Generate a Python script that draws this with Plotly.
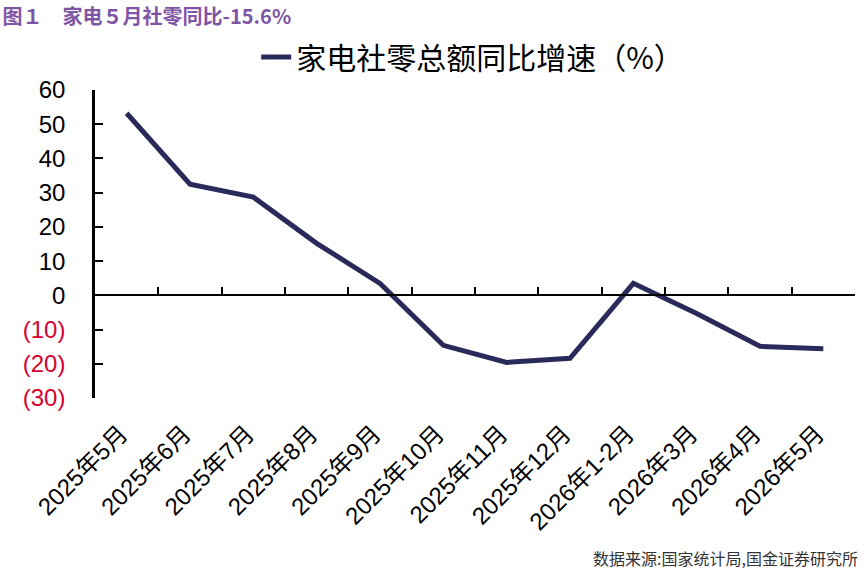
import plotly.graph_objects as go

categories = ["2025年5月", "2025年6月", "2025年7月", "2025年8月", "2025年9月", "2025年10月",
              "2025年11月", "2025年12月", "2026年1-2月", "2026年3月", "2026年4月", "2026年5月"]
values = [53.2, 32.5, 28.7, 15.2, 3.5, -14.6, -19.6, -18.4, 3.5, -5.3, -14.9, -15.6]
series_name = "家电社零总额同比增速（%）"
y_tick_vals = [-30, -20, -10, 0, 10, 20, 30, 40, 50, 60]
y_tick_text = ["(30)", "(20)", "(10)", "0", "10", "20", "30", "40", "50", "60"]
title_text = "图１　家电５月社零同比-15.6%"
source_text = "数据来源:国家统计局,国金证券研究所"

Y_MIN, Y_MAX = -30, 60
NEG_COLOR = "#D7002F"
LINE_COLOR = "#29295A"
FONT = "Liberation Sans, Arial, Noto Sans CJK SC"

styled_y = [f'<span style="color:{NEG_COLOR}">{t}</span>' if v < 0 else t
            for v, t in zip(y_tick_vals, y_tick_text)]

fig = go.Figure()
fig.add_trace(go.Scatter(
    x=categories, y=values, mode="lines", name=series_name,
    line=dict(color=LINE_COLOR, width=5), xaxis="x2", yaxis="y",
    hoverinfo="x+y",
))
# invisible trace to populate the label axis
fig.add_trace(go.Scatter(
    x=categories, y=values, mode="lines", showlegend=False,
    line=dict(color="rgba(0,0,0,0)", width=0), xaxis="x", yaxis="y", hoverinfo="skip",
))

fig.update_layout(
    width=865, height=576,
    margin=dict(l=95, r=10, t=90, b=178),
    paper_bgcolor="white", plot_bgcolor="white",
    font=dict(family=FONT, color="black"),
    title=dict(text=f"<b>{title_text}</b>", x=0.003, xref="container", xanchor="left",
               y=1 - 17 / 576, yref="container", yanchor="middle",
               font=dict(size=20, color="#7E55A4", family="Noto Sans CJK SC")),
    showlegend=True,
    legend=dict(orientation="h", x=0.497, xanchor="center", y=1.107, yanchor="middle",
                font=dict(size=30, family="Noto Sans CJK SC", color="black"),
                bgcolor="rgba(0,0,0,0)"),
    xaxis=dict(type="category", categoryorder="array", categoryarray=categories,
               showline=False, showgrid=False, zeroline=False, ticks="",
               tickangle=-45, tickfont=dict(size=24, family=FONT, color="black"),
               ticklabelstandoff=16, ticklabelshift=-6,
               range=[-0.5, len(categories) - 0.5]),
    xaxis2=dict(type="category", categoryorder="array", categoryarray=categories,
                overlaying="x", anchor="free", position=(0 - Y_MIN) / (Y_MAX - Y_MIN),
                showline=True, linecolor="black", linewidth=2,
                showgrid=False, zeroline=False, showticklabels=False,
                ticks="inside", tickson="boundaries", ticklen=7, tickwidth=2, tickcolor="black",
                range=[-0.5, len(categories) - 0.5]),
    yaxis=dict(range=[Y_MIN, Y_MAX], tickvals=y_tick_vals, ticktext=styled_y,
               showline=True, linecolor="black", linewidth=2.5,
               ticks="inside", ticklen=8, tickwidth=2, tickcolor="black",
               showgrid=False, zeroline=False, ticklabelstandoff=22,
               tickfont=dict(size=24, family=FONT, color="black")),
)

fig.add_annotation(text=source_text, xref="paper", yref="paper",
                   x=(860 - 95) / 760, y=-(558 - 398) / 308, xanchor="right", yanchor="middle",
                   showarrow=False, font=dict(size=16, color="#333333", family="Noto Sans CJK SC"))

fig.write_html("out.html")
